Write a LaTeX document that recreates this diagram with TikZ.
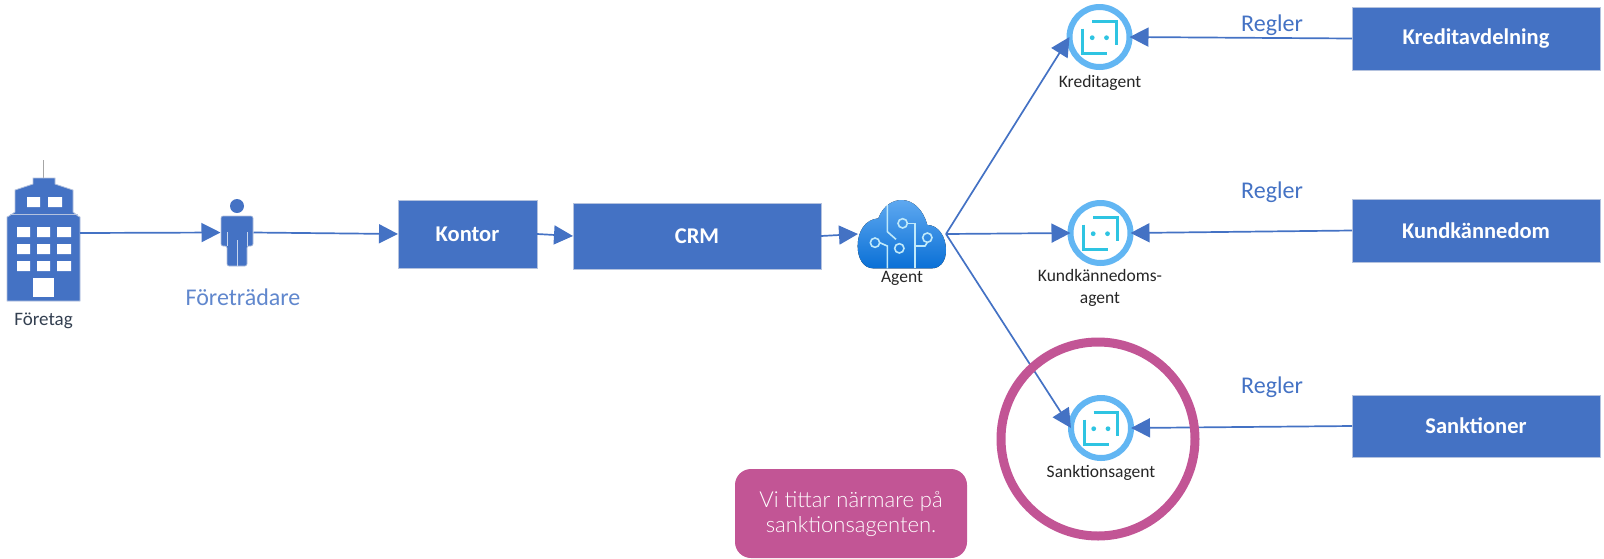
\documentclass[tikz,border=0pt]{standalone}
\usepackage{fontspec}
\setmainfont{Carlito}
\newfontfamily\latofont{Lato Light}
\usetikzlibrary{arrows.meta}
\definecolor{bluemain}{HTML}{4472C4}
\definecolor{boxedge}{HTML}{B4C2DE}
\definecolor{pinkmain}{HTML}{C25595}
\definecolor{ringblue}{HTML}{62B6F3}
\definecolor{cyanicon}{HTML}{2EC4E2}
\definecolor{cloudtop}{HTML}{5EA8F0}
\definecolor{cloudbot}{HTML}{0A70D6}
\definecolor{cloudline}{HTML}{BFE9FA}
\definecolor{darktext}{HTML}{262626}
\definecolor{slatetext}{HTML}{333F50}
\tikzset{
  x=1pt,y=-1pt,
  every node/.style={inner sep=0pt,outer sep=0pt},
  bluebox/.style={rectangle,fill=bluemain,draw=boxedge,line width=1pt,text=white,font=\fontsize{22.5}{26}\selectfont\bfseries},
  agentring/.style={circle,draw=ringblue,line width=6pt,fill=white,minimum size=60pt},
  smalllabel/.style={text=darktext,font=\fontsize{17.5}{22}\selectfont,align=center},
  bluelabel/.style={text=bluemain,font=\fontsize{24}{28}\selectfont},
  flow/.style={draw=bluemain,line width=1.7pt,-{Triangle[length=19pt,width=19pt]}},
  iconline/.style={draw=cyanicon,line width=3pt},
  cloudstroke/.style={draw=cloudline,line width=1.6pt},
}
\newcommand{\boticon}[1]{%
  \begin{scope}[shift={(#1)}]
    \draw[iconline] (-7.3,-15.7) -- (16.7,-15.7) -- (16.7,8.3);
    \draw[iconline] (-16.7,-8.3) -- (-16.7,16.7) -- (7.7,16.7);
    \fill[cyanicon] (-7.3,0.7) circle (2.4);
    \fill[cyanicon] (7,0.7) circle (2.4);
  \end{scope}}
\begin{document}
\begin{tikzpicture}
\useasboundingbox (0,0) rectangle (1604,558);
% Building
\node[minimum width=73pt,minimum height=136pt] (foretag) at (43.5,233) {};
\draw[gray!70,line width=0.8pt] (43.5,160) -- (43.5,178);
\fill[bluemain,draw=boxedge,line width=0.8pt] (33,184) -- (33,178) -- (55,178) -- (55,184) -- (73,190) -- (73,212) -- (78,216) -- (80,217) -- (80,301) -- (7,301) -- (7,217) -- (9,216) -- (15,212) -- (15,190) -- cycle;
\draw[boxedge,line width=0.8pt] (10,214) -- (78,214);
\fill[white] (27,197) rectangle (40,207) (48,197) rectangle (62,207);
\foreach \yy in {227,244,261}{
  \fill[white] (17,\yy) rectangle (30,\yy+10) (37,\yy) rectangle (50,\yy+10) (57,\yy) rectangle (71,\yy+10);
}
\fill[white] (33,278) rectangle (54,297);
% Person
\node[minimum width=33pt,minimum height=67pt] (person) at (237,232.5) {};
\fill[bluemain] (237,206) circle (7);
\fill[bluemain,draw=boxedge,line width=0.6pt,rounded corners=2pt] (221,216) -- (253,216) -- (253,246) -- (247,246) -- (247,266) -- (227,266) -- (227,246) -- (221,246) -- cycle;
\draw[white!70!bluemain,line width=0.8pt] (237,240) -- (237,266) (227,232) -- (227,246) (247,232) -- (247,246);
% Boxes
\node[bluebox,minimum width=139pt,minimum height=68pt] (kontor) at (467.5,234) {Kontor};
\node[bluebox,minimum width=248pt,minimum height=66pt] (crm) at (697,236) {CRM};
\node[bluebox,minimum width=248pt,minimum height=63pt] (kreditavd) at (1476,38.5) {Kreditavdelning};
\node[bluebox,minimum width=248pt,minimum height=63pt] (kundk) at (1476,230.5) {Kundkännedom};
\node[bluebox,minimum width=248pt,minimum height=62pt] (sankt) at (1476,426) {Sanktioner};
% Cloud
\node[minimum width=88pt,minimum height=68pt] (agent) at (902,234) {};
\begin{scope}[shift={(810,170)},scale=1/3]
  \fill[top color=cloudtop,bottom color=cloudbot]
    (190,295) .. controls (160,295) and (143,265) .. (143,228)
    .. controls (143,185) and (165,148) .. (205,145)
    .. controls (220,105) and (250,90) .. (275,90)
    .. controls (310,90) and (340,120) .. (352,165)
    .. controls (385,165) and (408,200) .. (408,240)
    .. controls (408,275) and (390,295) .. (365,295) -- cycle;
  \draw[cloudstroke] (232,105) -- (232,185) -- (258,208);
  \draw[cloudstroke] (268,235) circle (14);
  \draw[cloudstroke] (278,160) circle (14);
  \draw[cloudstroke] (292,160) -- (315,160) -- (315,295);
  \draw[cloudstroke] (352,203) circle (14);
  \draw[cloudstroke] (352,217) -- (345,228) -- (315,228);
  \draw[cloudstroke] (195,218) circle (14);
  \draw[cloudstroke] (209,218) -- (232,228) -- (232,295);
\end{scope}
% Agents
\node[agentring] (kredit) at (1099.5,37) {};
\node[agentring] (kund) at (1100.5,233) {};
\node[agentring] (sank) at (1101,428) {};
\boticon{1099.5,37}
\boticon{1100.5,233}
\boticon{1101,428}
% Labels
\node[text=slatetext,font=\fontsize{19}{23}\selectfont] (lforetag) at (43.5,321) {Företag};
\node[bluelabel,font=\fontsize{24}{28}\selectfont,text=bluemain!85!white] (lforetr) at (243,297) {Företrädare};
\node[smalllabel] (lagent) at (902,278) {Agent};
\node[smalllabel] (lkredit) at (1100,83) {Kreditagent};
\node[smalllabel] (lkund) at (1100,288) {Kundkännedoms-\\agent};
\node[smalllabel] (lsank) at (1101,473) {Sanktionsagent};
\node[bluelabel] (r1) at (1272,25) {Regler};
\node[bluelabel] (r2) at (1272,192) {Regler};
\node[bluelabel] (r3) at (1272,387) {Regler};
% Connectors
\draw[flow] (foretag.east) -- (person.west);
\draw[flow] (person.east) -- (kontor.west);
\draw[flow] (kontor.east) -- (crm.west);
\draw[flow] (crm.east) -- (agent.west);
\draw[flow] (agent.east) -- (kredit.west);
\draw[flow] (agent.east) -- (kund.west);
\draw[flow] (agent.east) -- (sank.west);
\draw[flow] (kreditavd.west) -- (kredit.east);
\draw[flow] (kundk.west) -- (kund.east);
\draw[flow] (sankt.west) -- (sank.east);
% Highlight
\node[circle,draw=pinkmain,line width=9pt,minimum size=194pt] (focus) at (1098,439) {};
\node[rectangle,fill=pinkmain,rounded corners=16pt,minimum width=232pt,minimum height=89pt,text=white,align=center,font=\latofont\fontsize{22}{25}\selectfont] (note) at (851,513.5) {Vi tittar närmare på\\sanktionsagenten.};
\end{tikzpicture}
\end{document}
